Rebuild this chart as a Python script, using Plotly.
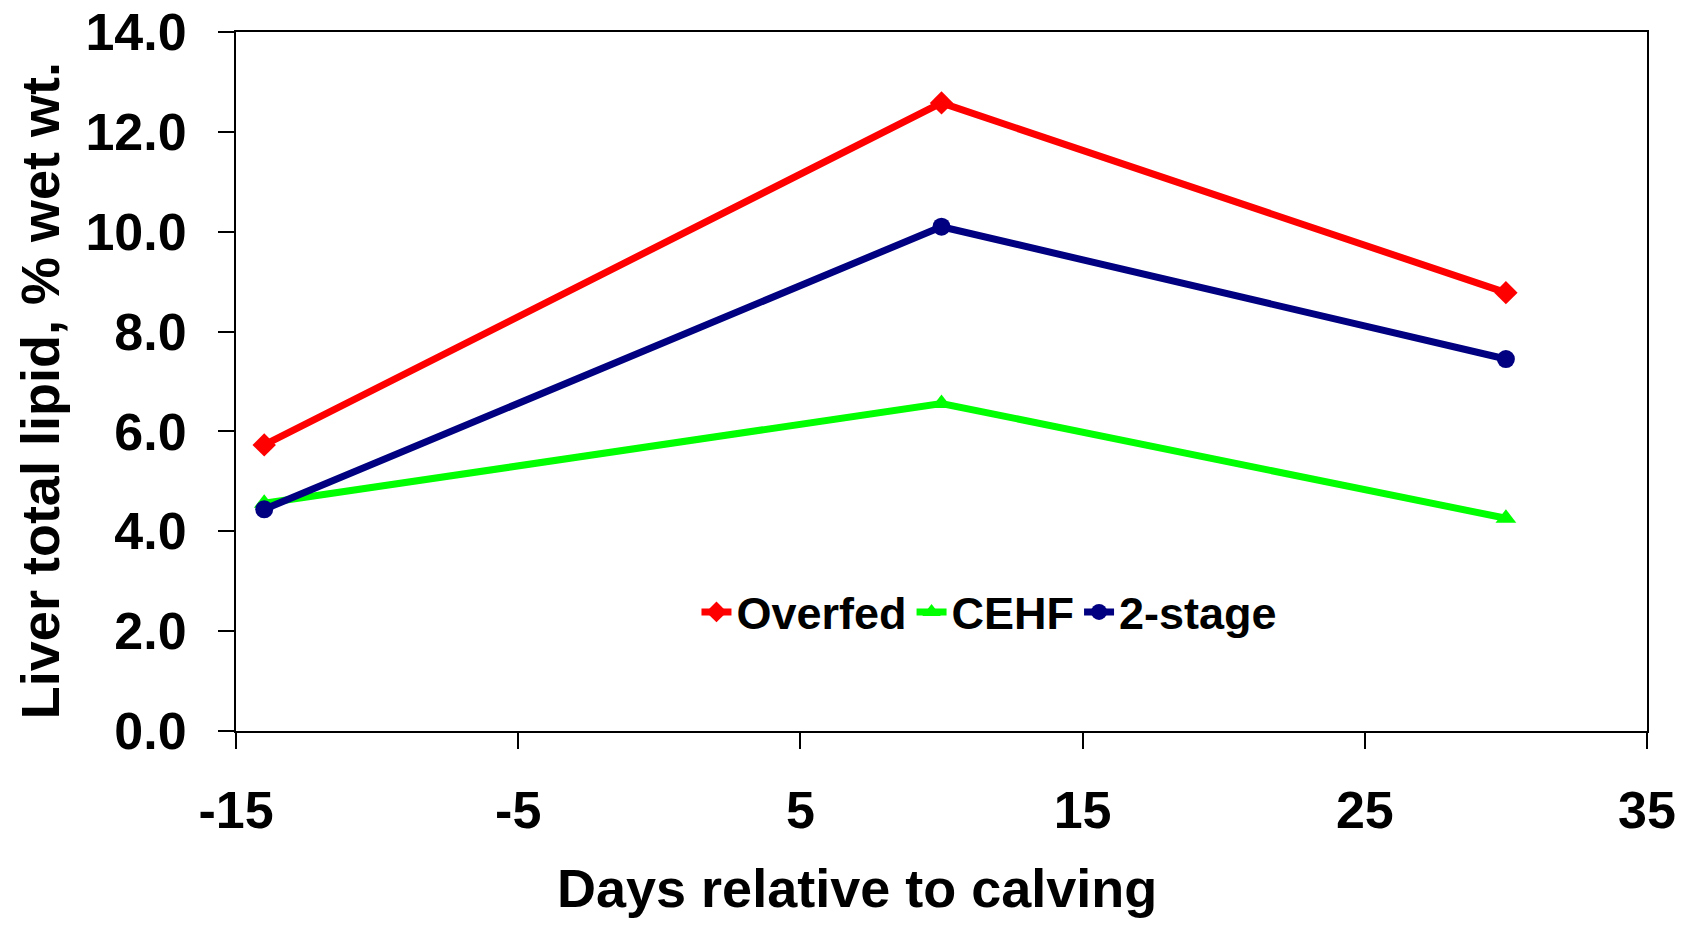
import plotly.graph_objects as go

days = [-14, 10, 30]
overfed = [5.73, 12.58, 8.78]
cehf = [4.56, 6.56, 4.26]
two_stage = [4.44, 10.10, 7.45]

series_names = ["Overfed", "CEHF", "2-stage"]
x_ticks = [-15, -5, 5, 15, 25, 35]
y_ticks = [0, 2, 4, 6, 8, 10, 12, 14]

x_title = "Days relative to calving"
y_title = "Liver total lipid, % wet wt."

FONT = "Liberation Sans, Arial, sans-serif"

fig = go.Figure()
styles = [
    (overfed, "#FF0000", "diamond"),
    (cehf, "#00FF00", "triangle-up"),
    (two_stage, "#000080", "circle"),
]
for name, (vals, color, sym) in zip(series_names, styles):
    fig.add_trace(go.Scatter(
        x=days, y=vals, name=name, mode="lines+markers",
        line=dict(color=color, width=7),
        marker=dict(color=color, symbol=sym, size=18),
    ))

# page body has an 8px default margin, so the figure is sized 16px smaller
fig.update_layout(
    width=1671, height=916,
    paper_bgcolor="white", plot_bgcolor="white",
    margin=dict(l=228, r=32, t=24, b=193, autoexpand=False),
    font=dict(family=FONT, color="black", size=52),
    showlegend=True,
    legend=dict(
        orientation="h", x=0.534, y=0.17, xanchor="center", yanchor="middle",
        font=dict(family=FONT, size=45, color="black", weight="bold"),
        bgcolor="rgba(0,0,0,0)", itemwidth=30, tracegroupgap=0,
    ),
    annotations=[
        dict(text=x_title, xref="paper", yref="paper", x=0.44, y=-0.224,
             xanchor="center", yanchor="middle", showarrow=False,
             font=dict(family=FONT, size=54, color="black", weight="bold")),
        dict(text=y_title, xref="paper", yref="paper", x=-0.1389, y=0.4862,
             xanchor="center", yanchor="middle", showarrow=False, textangle=-90,
             font=dict(family=FONT, size=54, color="black", weight="bold")),
    ],
)
fig.update_xaxes(
    range=[-15, 35], tickvals=x_ticks, ticktext=[str(v) for v in x_ticks],
    showgrid=False, zeroline=False,
    showline=True, linecolor="black", linewidth=2, mirror=True,
    ticks="outside", ticklen=16, tickwidth=1.5, tickcolor="black",
    tickfont=dict(family=FONT, size=52, weight="bold"),
    ticklabelstandoff=17, ticklabeloverflow="allow",
    automargin=False,
)
fig.update_yaxes(
    range=[0, 14], tickvals=y_ticks, ticktext=[f"{v:.1f}" for v in y_ticks],
    showgrid=False, zeroline=False,
    showline=True, linecolor="black", linewidth=2, mirror=True,
    ticks="outside", ticklen=16, tickwidth=1.5, tickcolor="black",
    tickfont=dict(family=FONT, size=52, weight="bold"),
    ticklabelstandoff=21, ticklabeloverflow="allow",
    automargin=False,
)

fig.write_html("out.html")
